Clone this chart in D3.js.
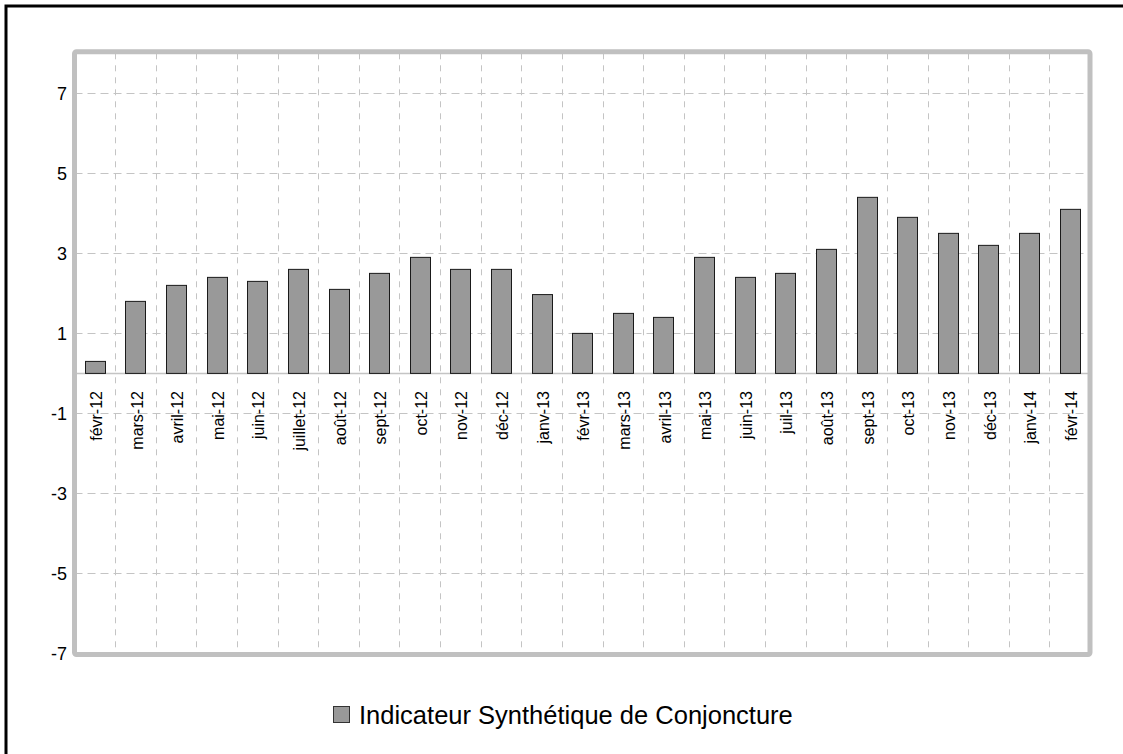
<!DOCTYPE html>
<html>
<head>
<meta charset="utf-8">
<script src="https://cdn.jsdelivr.net/npm/d3@7/dist/d3.min.js"></script>
<style>
  html, body { margin: 0; padding: 0; background: #fff; }
  svg { display: block; font-family: "Liberation Sans", Arial, sans-serif; }
</style>
</head>
<body>
<svg id="chart" width="1123" height="754"></svg>
<script>
const categories = ["févr-12","mars-12","avril-12","mai-12","juin-12","juillet-12","août-12","sept-12","oct-12","nov-12","déc-12","janv-13","févr-13","mars-13","avril-13","mai-13","juin-13","juil-13","août-13","sept-13","oct-13","nov-13","déc-13","janv-14","févr-14"];
const values = [0.3,1.8,2.2,2.4,2.3,2.6,2.1,2.5,2.9,2.6,2.6,1.97,1.0,1.5,1.4,2.9,2.4,2.5,3.1,4.4,3.9,3.5,3.2,3.5,4.1];
const yTicks = [7,5,3,1,-1,-3,-5,-7];
const seriesName = "Indicateur Synthétique de Conjoncture";

(function () {
const svg = d3.select("#chart");
const pL = 74.5, pR = 1090, pT = 53.3, pB = 653.5;

// outer black frame
svg.append("rect").attr("x", 6).attr("y", 6).attr("width", 1140).attr("height", 780)
  .attr("fill", "none").attr("stroke", "#000").attr("stroke-width", 3);

const x = d3.scaleBand().domain(categories).range([pL, pR]).paddingInner(0).paddingOuter(0);
const y = d3.scaleLinear().domain([-7, 8]).range([pB, pT]);

const g = svg.append("g");
// vertical dashed gridlines between categories
g.selectAll("line.vg").data(categories.slice(1)).enter().append("line")
  .attr("x1", d => Math.round(x(d)) + 0.5).attr("x2", d => Math.round(x(d)) + 0.5)
  .attr("y1", pT).attr("y2", pB)
  .attr("stroke", "#c4c4c4").attr("stroke-width", 1).attr("stroke-dasharray", "6,6");

// horizontal dashed gridlines
g.selectAll("line.hg").data(yTicks.filter(t => t > -7)).enter().append("line")
  .attr("x1", pL).attr("x2", pR)
  .attr("y1", d => Math.round(y(d)) + 0.5).attr("y2", d => Math.round(y(d)) + 0.5)
  .attr("stroke", "#c4c4c4").attr("stroke-width", 1).attr("stroke-dasharray", "8,5");

// zero line
g.append("line").attr("x1", pL).attr("x2", pR)
  .attr("y1", Math.round(y(0)) + 0.5).attr("y2", Math.round(y(0)) + 0.5)
  .attr("stroke", "#c4c4c4").attr("stroke-width", 1.5);

// bars
const bw = 20;
svg.append("g").selectAll("rect").data(values).enter().append("rect")
  .attr("x", (d, i) => Math.round(x(categories[i]) + x.bandwidth() / 2 - bw / 2) + 0.5)
  .attr("y", d => y(Math.max(0, d)))
  .attr("width", bw)
  .attr("height", d => Math.abs(y(d) - y(0)))
  .attr("fill", "#999999").attr("stroke", "#1a1a1a").attr("stroke-width", 1);

// plot border
svg.append("rect").attr("x", pL).attr("y", pT - 1.5).attr("width", pR - pL).attr("height", pB - pT + 2.5)
  .attr("fill", "none").attr("stroke", "#c0c0c0").attr("stroke-width", 5).attr("rx", 2);

// y tick labels
const yAxis = d3.axisLeft(y).tickValues(yTicks).tickSize(0).tickPadding(0).tickFormat(d => String(d));
const ya = svg.append("g").attr("transform", "translate(67,0)").call(yAxis);
ya.select(".domain").remove();
ya.attr("font-size", null).attr("font-family", null);
ya.selectAll("text").style("font-size", "18px").style("fill", "#000")
  .style("font-family", "'Liberation Sans', Arial, sans-serif");

// x labels (rotated)
svg.append("g").selectAll("text").data(categories).enter().append("text")
  .attr("transform", d => `translate(${x(d) + x.bandwidth() / 2 + 1.5},391) rotate(-90)`)
  .attr("text-anchor", "end").attr("dy", "0.35em")
  .style("font-size", "16px").style("fill", "#000")
  .text(d => d);

// legend
const lg = svg.append("g");
lg.append("rect").attr("x", 333.5).attr("y", 706.5).attr("width", 16).attr("height", 16)
  .attr("fill", "#999999").attr("stroke", "#333").attr("stroke-width", 1);
lg.append("text").attr("x", 359).attr("y", 724).style("font-size", "25.5px").style("fill", "#000")
  .text(seriesName);
})();
</script>
</body>
</html>
